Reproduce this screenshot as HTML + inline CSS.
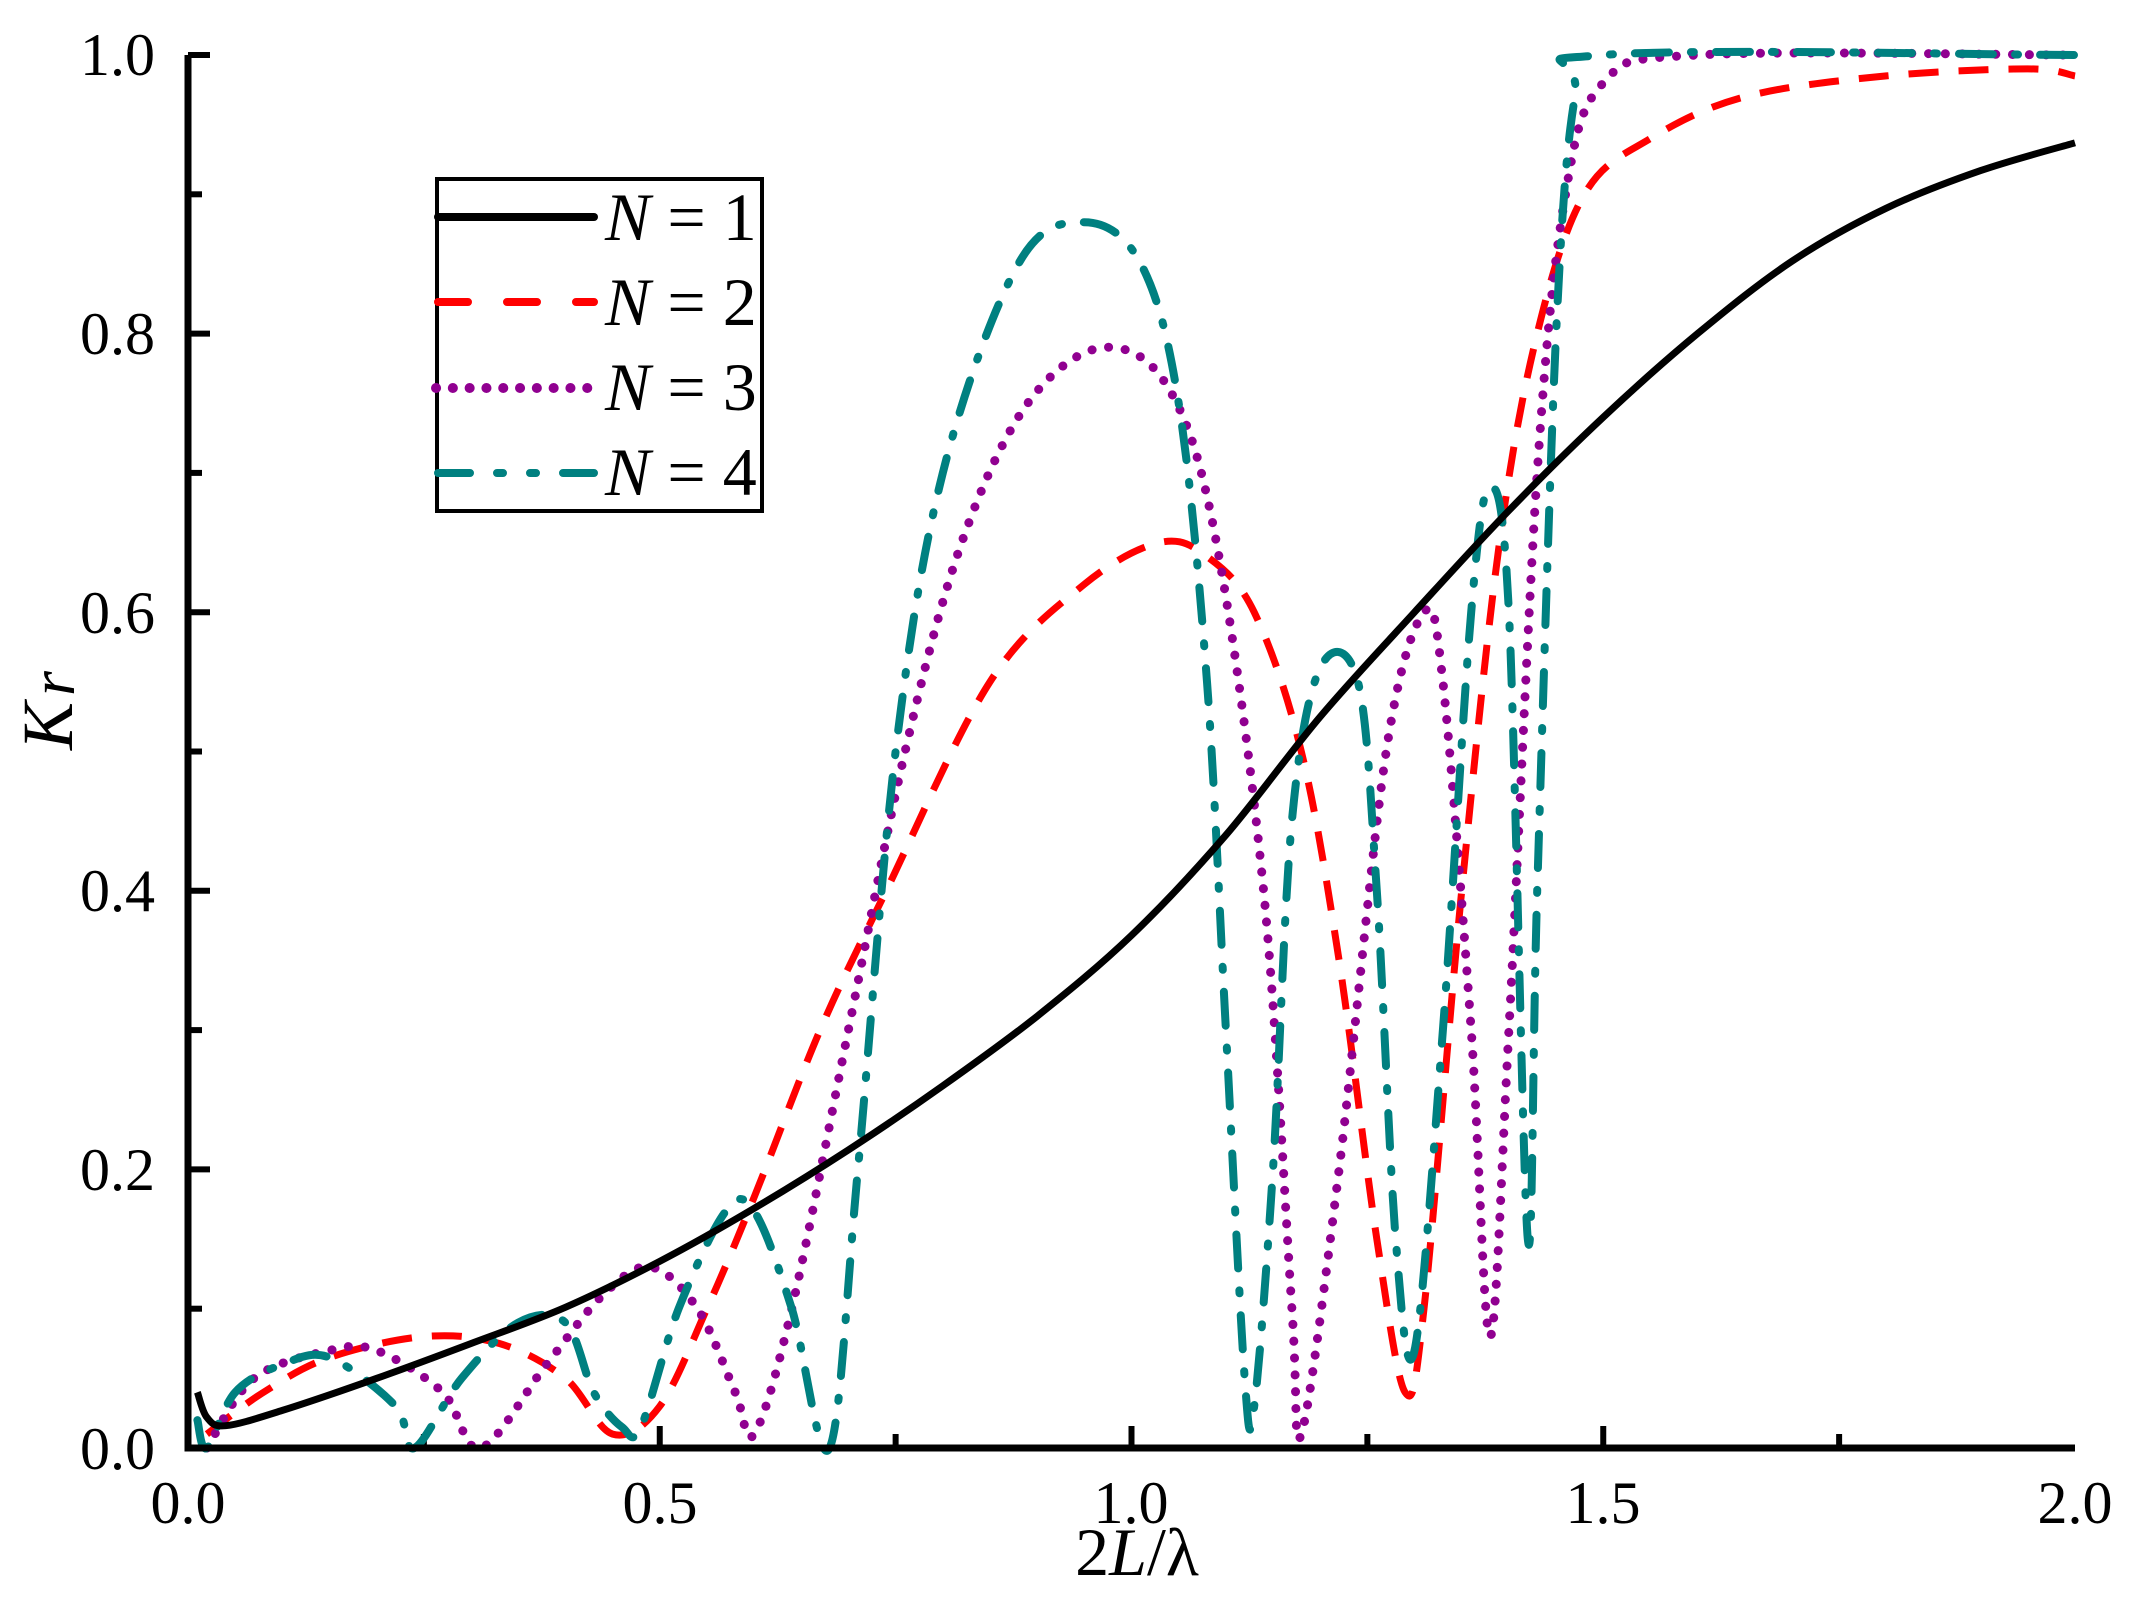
<!DOCTYPE html>
<html><head><meta charset="utf-8"><style>
html,body{margin:0;padding:0;background:#fff}
svg{display:block}
text{font-family:"Liberation Serif",serif;fill:#000}
</style></head><body>
<svg id="s" width="2141" height="1597" viewBox="0 0 2141 1597" xmlns="http://www.w3.org/2000/svg">
<g id="ticks" stroke="#000" stroke-width="6" fill="none"></g>
<g id="curves" fill="none"></g>
<path d="M188,55 L188,1448 L2075,1448" stroke="#000" stroke-width="7" fill="none" stroke-linejoin="miter"/>
<g font-size="60" text-anchor="end">
<text x="155" y="1469">0.0</text><text x="155" y="1190">0.2</text><text x="155" y="911">0.4</text>
<text x="155" y="633">0.6</text><text x="155" y="354">0.8</text><text x="155" y="75">1.0</text>
</g>
<g font-size="60" text-anchor="middle">
<text x="188" y="1523">0.0</text><text x="660" y="1523">0.5</text><text x="1131" y="1523">1.0</text>
<text x="1603" y="1523">1.5</text><text x="2075" y="1523">2.0</text>
</g>
<text x="1137" y="1575" font-size="68" text-anchor="middle">2<tspan font-style="italic">L</tspan>/λ</text>
<text transform="translate(72,750) rotate(-90)" font-size="72" font-style="italic">K<tspan font-size="64" dx="6" dy="2">r</tspan></text>
<rect x="437" y="179" width="325" height="332" fill="#fff" stroke="#000" stroke-width="4"/>
<g stroke-width="8" stroke-linecap="round">
<line x1="438" y1="217" x2="594" y2="217" stroke="#000"/>
<line x1="438" y1="302" x2="594" y2="302" stroke="#ff0000" stroke-dasharray="30 39"/>
<line x1="436" y1="388" x2="594" y2="388" stroke="#900090" stroke-width="10" stroke-dasharray="0.1 16.7"/>
<line x1="438" y1="473" x2="594" y2="473" stroke="#008080" stroke-dasharray="32 27 6 27 6 27"/>
</g>
<g font-size="68">
<text x="605" y="240"><tspan font-style="italic">N</tspan> = 1</text>
<text x="605" y="325"><tspan font-style="italic">N</tspan> = 2</text>
<text x="605" y="410"><tspan font-style="italic">N</tspan> = 3</text>
<text x="605" y="495"><tspan font-style="italic">N</tspan> = 4</text>
</g>
</svg>
<script>
var X=function(v){return 188+v*943.5},Y=function(k){return 1448-k*1393};
var t=document.getElementById('ticks'),h='';
for(var i=1;i<8;i++){var v=i*0.25,x=X(v),L=(i%2==0)?22:14;h+='<line x1="'+x+'" y1="1448" x2="'+x+'" y2="'+(1448-L)+'"/>';}
for(var i=1;i<=10;i++){var y=Y(i*0.1),L=(i%2==0)?22:14;h+='<line x1="188" y1="'+y+'" x2="'+(188+L)+'" y2="'+y+'"/>';}
t.innerHTML=h;
function path(pts){
 var P=pts.map(function(p){return [X(p[0]),Y(p[1])]});
 var d='M'+P[0][0].toFixed(1)+','+P[0][1].toFixed(1);
 for(var i=0;i<P.length-1;i++){
  var p0=P[i-1]||P[i],p1=P[i],p2=P[i+1],p3=P[i+2]||p2;
  var c1=[p1[0]+(p2[0]-p0[0])/6,p1[1]+(p2[1]-p0[1])/6],c2=[p2[0]-(p3[0]-p1[0])/6,p2[1]-(p3[1]-p1[1])/6];
  d+=' C'+c1[0].toFixed(1)+','+c1[1].toFixed(1)+' '+c2[0].toFixed(1)+','+c2[1].toFixed(1)+' '+p2[0].toFixed(1)+','+p2[1].toFixed(1);
 }
 return d;
}
var n1=[[0.01,0.04],[0.02,0.022],[0.04,0.016],[0.1,0.027],[0.2,0.05],[0.3,0.075],[0.4,0.101],[0.5,0.134],[0.6,0.172],[0.7,0.214],[0.8,0.26],[0.9,0.31],[1.0,0.368],[1.1,0.44],[1.2,0.525],[1.3,0.6],[1.4,0.673],[1.5,0.74],[1.6,0.8],[1.7,0.852],[1.8,0.89],[1.9,0.917],[2.0,0.937]];
var n2=[[0.02,0.01],[0.08,0.04],[0.15,0.065],[0.25,0.08],[0.33,0.075],[0.4,0.05],[0.45,0.01],[0.5,0.03],[0.55,0.1],[0.6,0.18],[0.67,0.3],[0.74,0.4],[0.85,0.55],[0.95,0.62],[1.03,0.65],[1.08,0.64],[1.13,0.6],[1.18,0.5],[1.22,0.35],[1.26,0.15],[1.29,0.04],[1.31,0.1],[1.35,0.4],[1.39,0.65],[1.43,0.8],[1.48,0.9],[1.55,0.94],[1.65,0.97],[1.8,0.985],[1.95,0.99],[2.0,0.985]];
var n3=[[0.02,0.0],[0.07,0.05],[0.15,0.07],[0.2,0.07],[0.27,0.04],[0.31,0.0],[0.38,0.06],[0.44,0.11],[0.49,0.13],[0.54,0.1],[0.58,0.04],[0.6,0.01],[0.64,0.1],[0.7,0.3],[0.76,0.5],[0.82,0.65],[0.89,0.75],[0.97,0.79],[1.04,0.76],[1.09,0.65],[1.14,0.4],[1.17,0.1],[1.18,0.01],[1.22,0.2],[1.27,0.5],[1.31,0.6],[1.33,0.55],[1.36,0.3],[1.38,0.08],[1.4,0.3],[1.43,0.7],[1.46,0.9],[1.5,0.98],[1.6,1.0],[2.0,1.0]];
var n4=[[0.01,0.02],[0.02,0.0],[0.05,0.04],[0.1,0.06],[0.15,0.065],[0.22,0.03],[0.24,0.0],[0.29,0.05],[0.35,0.09],[0.4,0.09],[0.43,0.04],[0.46,0.015],[0.48,0.015],[0.52,0.1],[0.57,0.17],[0.6,0.17],[0.64,0.1],[0.68,0.0],[0.71,0.2],[0.75,0.5],[0.8,0.7],[0.88,0.85],[0.95,0.88],[1.01,0.85],[1.05,0.75],[1.08,0.55],[1.1,0.3],[1.12,0.05],[1.13,0.03],[1.15,0.2],[1.17,0.45],[1.2,0.56],[1.24,0.55],[1.26,0.4],[1.28,0.15],[1.3,0.07],[1.33,0.3],[1.36,0.6],[1.38,0.69],[1.4,0.6],[1.42,0.15],[1.43,0.4],[1.45,0.8],[1.47,0.97],[1.5,1.0],[2.0,1.0]];
var c=document.getElementById('curves');
c.innerHTML=
'<path d="'+path(n2)+'" stroke="#ff0000" stroke-width="7" stroke-dasharray="30 20"/>'+
'<path d="'+path(n3)+'" stroke="#900090" stroke-width="9" stroke-linecap="round" stroke-dasharray="0.1 16.7"/>'+
'<path d="'+path(n4)+'" stroke="#008080" stroke-width="8" stroke-linecap="round" stroke-dasharray="34 22 3 22"/>'+
'<path d="'+path(n1)+'" stroke="#000" stroke-width="7"/>';
</script>
</body></html>
